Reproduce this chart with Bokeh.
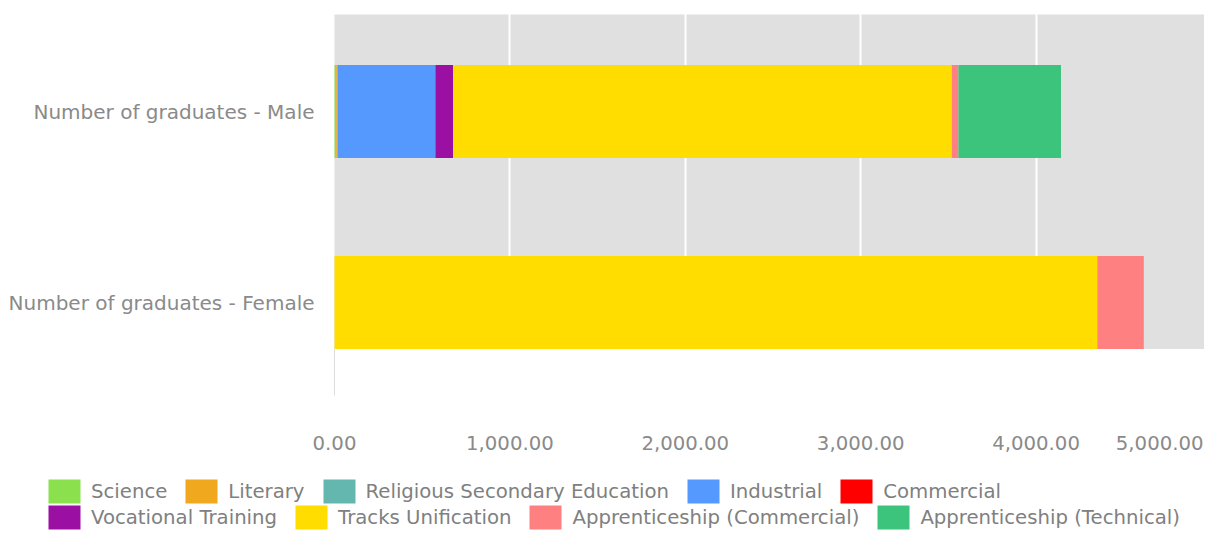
from bokeh.plotting import figure
from bokeh.models import (Range1d, NumeralTickFormatter, Legend, LegendItem, Label, FixedTicker,
                          ColumnDataSource, LinearAxis, Grid)
from bokeh.embed import file_html
from bokeh.resources import INLINE

# ---- data ----
categories = ["Number of graduates - Female", "Number of graduates - Male"]  # bottom -> top
series = ["Science", "Literary", "Religious Secondary Education", "Industrial", "Commercial",
          "Vocational Training", "Tracks Unification", "Apprenticeship (Commercial)",
          "Apprenticeship (Technical)"]
male = [10, 7, 0, 558, 0, 101, 2843, 38, 585]
female = [0, 0, 0, 0, 0, 0, 4349, 265, 0]
x_ticks = [0, 1000, 2000, 3000, 4000, 5000]

colors = ["#8be04e", "#f0a81e", "#63b7af", "#5599ff", "#ff0000",
          "#9b0fa3", "#ffdd00", "#ff8080", "#3cc47c"]

# ---- layout constants (pixels) ----
W, H = 1204, 530
PLOT_L, PLOT_R = 334, 1211       # x of value 0 and of the range end
PLOT_T, AXIS_Y = 14, 395         # top of grey area, x-axis position
ROW0_Y, ROW_STEP = 302, 191      # centre of bottom category, distance between categories
BAR_H = 0.488
FONT = "DejaVu Sans"
TXT = "#8a8a8a"
FS = "19.7px"

x_max = x_ticks[-1]
sx = (PLOT_R - PLOT_L) / x_max
x_range = Range1d(-PLOT_L / sx, (W - PLOT_L) / sx)
y_range = Range1d(-(H - ROW0_Y) / ROW_STEP, ROW0_Y / ROW_STEP)
y_top = (ROW0_Y - PLOT_T) / ROW_STEP
y_axis = (ROW0_Y - AXIS_Y) / ROW_STEP

data = {"y": list(range(len(categories)))}
for s, f, m in zip(series, female, male):
    data[s] = [f, m]
source = ColumnDataSource(data)

p = figure(width=W, height=H, output_backend="svg", toolbar_location=None,
           x_range=x_range, y_range=y_range, x_axis_location=None, y_axis_location=None,
           min_border=0)
p.outline_line_color = None
p.background_fill_color = "white"
p.border_fill_color = "white"
for g in p.select(type=Grid):
    g.visible = False

# grey plotting area (ends at the lower bar, as in the reference)
p.quad(left=0, right=x_max, bottom=-BAR_H / 2, top=y_top, fill_color="#e0e0e0",
       line_color=None, level="image")

p.add_layout(Grid(dimension=0, ticker=FixedTicker(ticks=x_ticks[1:]),
                  grid_line_color="white", grid_line_width=2))

rs = p.hbar_stack(series, y="y", height=BAR_H, color=colors, line_color=None, source=source)

# faint axis line below the grey area
p.segment(x0=[0], y0=[-BAR_H / 2], x1=[0], y1=[y_axis], line_color="#dddddd", line_width=1)

fmt = NumeralTickFormatter(format="0,0.00")
xax = LinearAxis(fixed_location=y_axis, ticker=FixedTicker(ticks=x_ticks), formatter=fmt)
xax.major_label_overrides = {x_max: ""}
xax.axis_line_color = None
xax.major_tick_line_color = None
xax.minor_tick_line_color = None
xax.major_label_standoff = 34
xax.major_label_text_font = FONT
xax.major_label_text_font_size = FS
xax.major_label_text_color = TXT
p.add_layout(xax, "below")

yax = LinearAxis(fixed_location=0, ticker=FixedTicker(ticks=data["y"]))
yax.major_label_overrides = {i: c for i, c in enumerate(categories)}
yax.axis_line_color = None
yax.major_tick_line_color = None
yax.minor_tick_line_color = None
yax.major_label_standoff = 14
yax.major_label_text_font = FONT
yax.major_label_text_font_size = "20px"
yax.major_label_text_color = TXT
p.add_layout(yax, "left")

# last tick label, kept inside the page (right-aligned like the reference)
last = Label(x=x_max, x_units="data", y=H - AXIS_Y - 40, y_units="screen",
             text=f"{x_max:,.2f}", text_align="right", text_baseline="top", x_offset=-8,
             text_font=FONT, text_font_size=FS, text_color=TXT)
p.add_layout(last)

def make_legend(idx, loc):
    return Legend(items=[LegendItem(label=series[i], renderers=[rs[i]]) for i in idx],
                  orientation="horizontal", glyph_width=40, glyph_height=30,
                  label_standoff=7, spacing=14, padding=0, margin=0,
                  border_line_color=None, background_fill_alpha=0,
                  label_text_font=FONT, label_text_font_size=FS,
                  label_text_color="#808080", location=loc)

p.add_layout(make_legend([0, 1, 2, 3, 4], (44, 24)), "center")
p.add_layout(make_legend([5, 6, 7, 8], (44, -2)), "center")

open("out.html", "w").write(file_html(p, INLINE))
